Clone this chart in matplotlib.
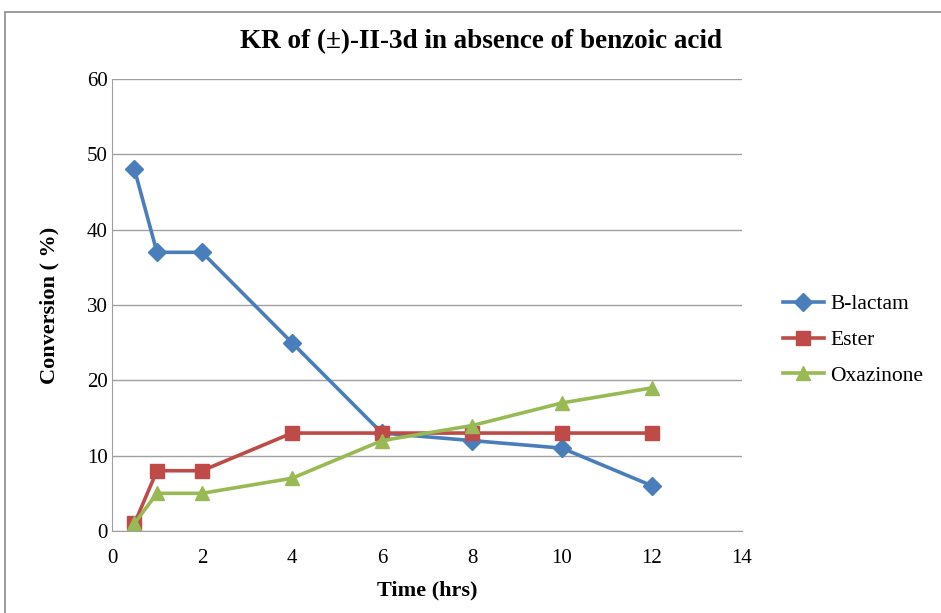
import matplotlib.pyplot as plt
from matplotlib.patches import Rectangle

plt.rcParams['font.family'] = ['Liberation Serif', 'DejaVu Serif']

time_hrs = [0.5, 1, 2, 4, 6, 8, 10, 12]
b_lactam = [48, 37, 37, 25, 13, 12, 11, 6]
ester = [1, 8, 8, 13, 13, 13, 13, 13]
oxazinone = [1, 5, 5, 7, 12, 14, 17, 19]

fig = plt.figure(figsize=(9.41, 6.13), dpi=100)
ax = fig.add_axes([0.119, 0.1338, 0.6695, 0.7372])

# outer chart border, Excel style
fig.patches.append(Rectangle((5 / 941, -0.01), 1.0, 0.9904, transform=fig.transFigure,
                             fill=False, edgecolor='#8c8c8c', linewidth=1.2))

ax.plot(time_hrs, b_lactam, color='#4A7EBB', lw=2.6, marker='D', ms=9, label='B-lactam')
ax.plot(time_hrs, ester, color='#BE4B48', lw=2.6, marker='s', ms=9.5, label='Ester')
ax.plot(time_hrs, oxazinone, color='#98B954', lw=2.6, marker='^', ms=10.5, label='Oxazinone')

ax.set_xlim(0, 14)
ax.set_ylim(0, 60)
ax.set_xticks(range(0, 15, 2))
ax.set_yticks(range(0, 61, 10))
ax.yaxis.grid(True, color='#a0a0a0', lw=1)
ax.set_axisbelow(True)
for s in ['top', 'right']:
    ax.spines[s].set_visible(False)
for s in ['left', 'bottom']:
    ax.spines[s].set_color('#a0a0a0')
ax.tick_params(length=0, labelsize=15)
ax.tick_params(axis='y', pad=3)
ax.tick_params(axis='x', pad=13)

# title is centred on the whole chart, not on the plot area
fig.text(481 / 941, 1 - 42 / 613, 'KR of (±)-II-3d in absence of benzoic acid',
         fontsize=19.5, fontweight='bold', ha='center', va='center')
ax.set_xlabel('Time (hrs)', fontsize=16, fontweight='bold', labelpad=9)
ax.set_ylabel('Conversion ( %)', fontsize=16, fontweight='bold', labelpad=20)

ax.legend(loc='center left', bbox_to_anchor=(1.065, 0.4226), frameon=False, fontsize=15.5,
          handlelength=1.9, handletextpad=0.3, labelspacing=0.72, borderaxespad=0, borderpad=0)

fig.savefig('out.png', dpi=100)
